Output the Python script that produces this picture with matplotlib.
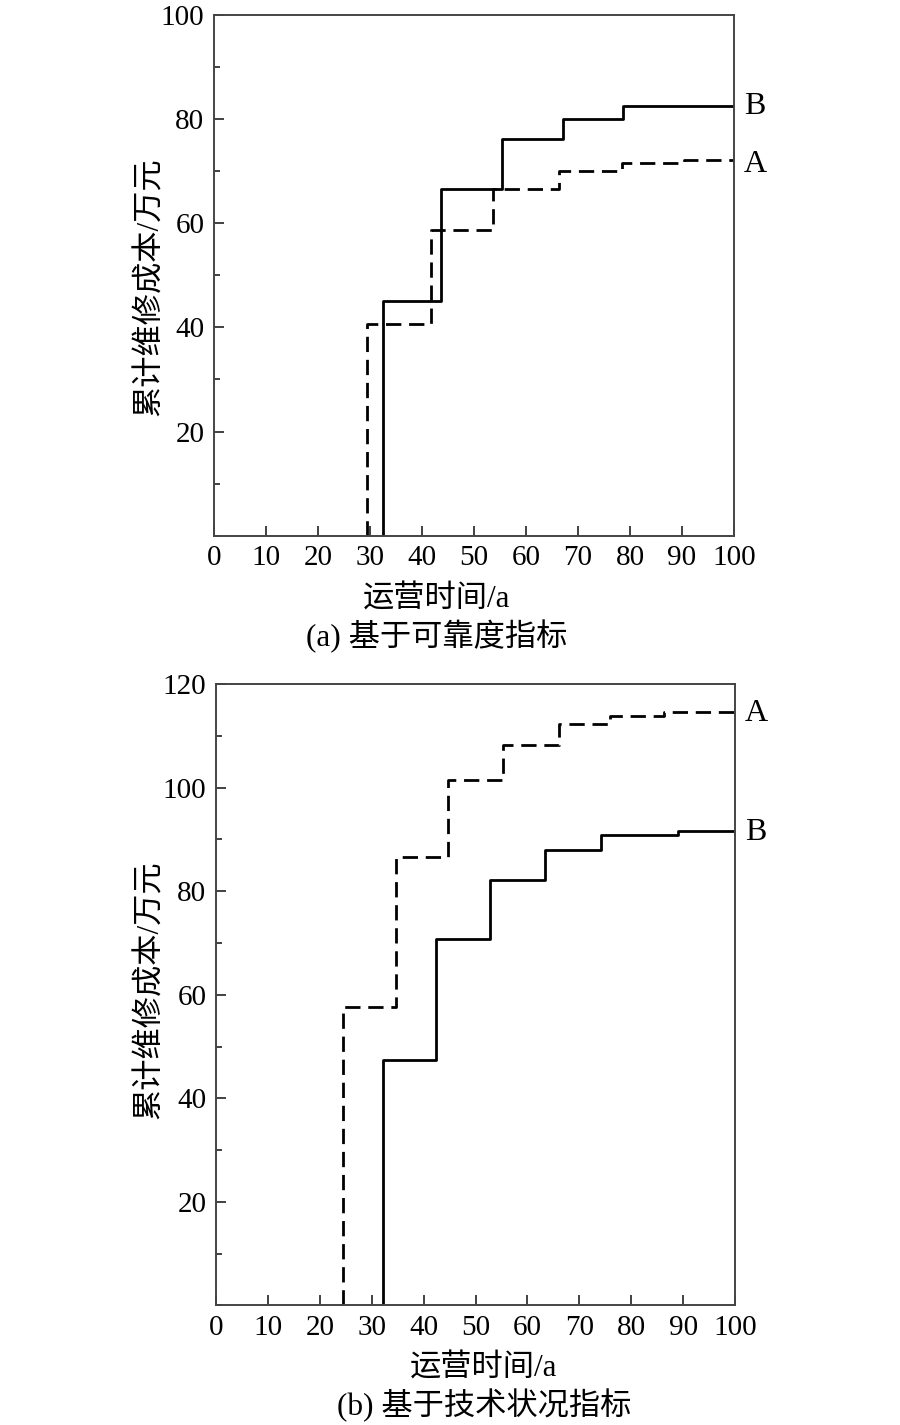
import numpy as np
import matplotlib
matplotlib.use('Agg')
import matplotlib.pyplot as plt
from matplotlib.ticker import MultipleLocator

plt.rcParams['font.family'] = ['Liberation Serif', 'Noto Sans CJK SC']
plt.rcParams['axes.unicode_minus'] = False

# ---- data ----
# (a) reliability index
a_A_t = [29.5, 41.7, 53.7, 66.3, 78.4, 90.4]
a_A_y = [40.6, 58.7, 66.5, 70.0, 71.5, 72.1]
a_B_t = [32.4, 43.6, 55.4, 67.2, 78.6]
a_B_y = [45.1, 66.5, 76.1, 80.1, 82.6]
# (b) technical condition index
b_A_t = [24.4, 34.6, 44.7, 55.3, 66.0, 75.9, 86.4]
b_A_y = [57.7, 86.6, 101.5, 108.3, 112.3, 113.9, 114.5]
b_B_t = [32.1, 42.3, 52.8, 63.3, 74.1, 89.1]
b_B_y = [47.3, 70.8, 82.1, 87.9, 90.8, 91.6]

x_end = 100
xticks = list(range(0, 101, 10))
ylabel = '累计维修成本/万元'
xlabel = '运营时间/a'
titles = ['(a) 基于可靠度指标', '(b) 基于技术状况指标']

dash = (5.5, 2.8)
lw = 2.0
fs = 21      # tick labels
fs_lab = 22.5  # axis labels / captions


def stairs(t, y):
    xs = np.r_[t[0], t, x_end]
    ys = np.r_[0, y, y[-1]]
    return xs, ys


def style_ax(ax, ymax):
    ax.set_xlim(0, 100)
    ax.set_ylim(0, ymax)
    ax.set_xticks(xticks)
    ax.set_yticks(list(range(20, ymax + 1, 20)))
    ax.yaxis.set_minor_locator(MultipleLocator(10))
    ax.tick_params(which='both', direction='in', top=False, right=False,
                   labelsize=fs, colors='#333333', labelcolor='black')
    ax.tick_params(which='major', length=7, width=1.3, pad=7)
    ax.tick_params(which='minor', length=4.5, width=1.3)
    for s in ax.spines.values():
        s.set_color('#444444')
        s.set_linewidth(1.4)


def end_label(ax, txt, yv, dy=0):
    ax.annotate(txt, (x_end, yv), xytext=(7, dy), textcoords='offset points',
                va='center', ha='left', fontsize=23, annotation_clip=False)


fig = plt.figure(figsize=(9, 14.25), dpi=100)
ax1 = fig.add_axes([0.2378, 0.6241, 0.5778, 0.3654])
ax2 = fig.add_axes([0.24, 0.0839, 0.5767, 0.4361])

# top panel
xs, ys = stairs(a_A_t, a_A_y)
ax1.step(xs, ys, where='post', color='black', lw=lw, dashes=dash)
xs, ys = stairs(a_B_t, a_B_y)
ax1.step(xs, ys, where='post', color='black', lw=lw)
style_ax(ax1, 100)
end_label(ax1, 'B', a_B_y[-1], -1)
end_label(ax1, 'A', a_A_y[-1], -3)

# bottom panel
xs, ys = stairs(b_A_t, b_A_y)
ax2.step(xs, ys, where='post', color='black', lw=lw, dashes=dash)
xs, ys = stairs(b_B_t, b_B_y)
ax2.step(xs, ys, where='post', color='black', lw=lw)
style_ax(ax2, 120)
end_label(ax2, 'A', b_A_y[-1], -1)
end_label(ax2, 'B', b_B_y[-1], -1)

# labels placed in figure coords
W, H = 900.0, 1425.0
fig.text(150 / W, 1 - 287 / H, ylabel, rotation=90, ha='center', va='center', fontsize=fs_lab)
fig.text(150 / W, 1 - 990 / H, ylabel, rotation=90, ha='center', va='center', fontsize=fs_lab)
fig.text(437 / W, 1 - 600 / H, xlabel, ha='center', va='center', fontsize=fs_lab)
fig.text(437 / W, 1 - 636 / H, titles[0], ha='center', va='center', fontsize=fs_lab)
fig.text(484 / W, 1 - 1369 / H, xlabel, ha='center', va='center', fontsize=fs_lab)
fig.text(484 / W, 1 - 1405 / H, titles[1], ha='center', va='center', fontsize=fs_lab)

fig.savefig('out.png', dpi=100)
